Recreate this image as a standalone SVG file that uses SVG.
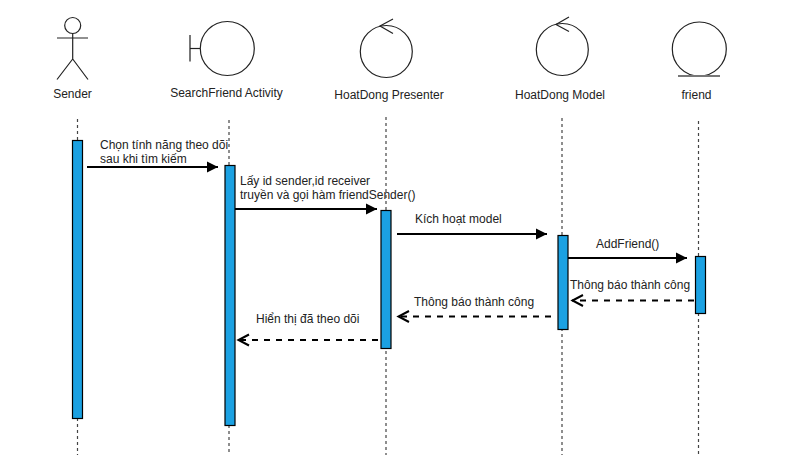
<svg xmlns="http://www.w3.org/2000/svg" width="800" height="455" viewBox="0 0 800 455">
<defs>
<marker id="solid" markerUnits="userSpaceOnUse" markerWidth="12" markerHeight="12" refX="11" refY="6" orient="auto"><path d="M0,0.5 L11,6 L0,11.5 Z" fill="#000"/></marker>
<marker id="open" markerUnits="userSpaceOnUse" markerWidth="14" markerHeight="14" refX="12" refY="7" orient="auto"><path d="M1,1.5 L11.5,7 L1,12.5" fill="none" stroke="#000" stroke-width="2"/></marker>
</defs>
<style>
text{font-family:"Liberation Sans",Arial,sans-serif;font-size:12px;fill:#222}
.c{text-anchor:middle}
.sh{fill:#fff;stroke:#222;stroke-width:1.2}
.ln{fill:none;stroke:#222;stroke-width:1.2}
.bar{fill:none;stroke:#777;stroke-width:2}
.life{stroke:#444;stroke-width:1.2;stroke-dasharray:3 3;fill:none}
.act{fill:#1ba1e2;stroke:#000;stroke-width:1.2}
.msg{stroke:#000;stroke-width:2;fill:none;marker-end:url(#solid)}
.ret{stroke:#000;stroke-width:2;fill:none;stroke-dasharray:6 6;marker-end:url(#open)}
</style>
<g id="lifelines" class="connectors">
<path class="life" d="M77.5 119V140M77.5 418V455"/>
<path class="life" d="M229 120V165M229 425V455"/>
<path class="life" d="M386 117V455"/>
<path class="life" d="M562 118V455"/>
<path class="life" d="M698.500 121V455"/>
</g>
<g id="sender"><circle class="sh" cx="72.700" cy="25.500" r="8"/><path class="ln" d="M72.700 33.500V59M57 38H88M72.700 59L57 79.500M72.700 59L88 79.500"/><text class="c" x="72.500" y="98">Sender</text></g>
<g id="searchfriend"><circle class="sh" cx="227.300" cy="48.500" r="27"/><path class="bar" d="M190 35V61.500"/><path class="ln" d="M190 48.500H200"/><text class="c" x="226.500" y="97">SearchFriend Activity</text></g>
<g id="presenter"><circle class="sh" cx="386.300" cy="51.500" r="26"/><path class="ln" d="M393 19L380 26L393 33.500"/><text class="c" x="389" y="99">HoatDong Presenter</text></g>
<g id="model"><circle class="sh" cx="562.300" cy="49.500" r="26"/><path class="ln" d="M569 17L556 24.500L569 31.500"/><text class="c" x="560" y="99">HoatDong Model</text></g>
<g id="friend"><circle class="sh" cx="699.300" cy="49" r="27"/><path class="bar" d="M678 76H720"/><text class="c" x="696.500" y="99">friend</text></g>
<g id="activations">
<rect class="act" x="72.500" y="140.500" width="10" height="278"/>
<rect class="act" x="225" y="165.500" width="10" height="260"/>
<rect class="act" x="381" y="210.500" width="10" height="138"/>
<rect class="act" x="558" y="235.500" width="10" height="94"/>
<rect class="act" x="695.500" y="256.500" width="10" height="57"/>
</g>
<g id="connectors">
<path class="msg" d="M87 167H218"/>
<path class="msg" d="M235 209H377"/>
<path class="msg" d="M397 234H547"/>
<path class="msg" d="M568 258H687"/>
<path class="ret" d="M694 300.500H572"/>
<path class="ret" d="M551 316.500H398"/>
<path class="ret" d="M378 340H238"/>
</g>
<g id="labels">
<text x="100" y="149">Chọn tính năng theo dõi</text>
<text x="100" y="163">sau khi tìm kiếm</text>
<text x="240" y="185">Lấy id sender,id receiver</text>
<text x="240" y="199">truyền và gọi hàm friendSender()</text>
<text x="415" y="223">Kích hoạt model</text>
<text x="596" y="248">AddFriend()</text>
<text x="570" y="289">Thông báo thành công</text>
<text x="414" y="306">Thông báo thành công</text>
<text x="256" y="323">Hiển thị đã theo dõi</text>
</g>
</svg>
